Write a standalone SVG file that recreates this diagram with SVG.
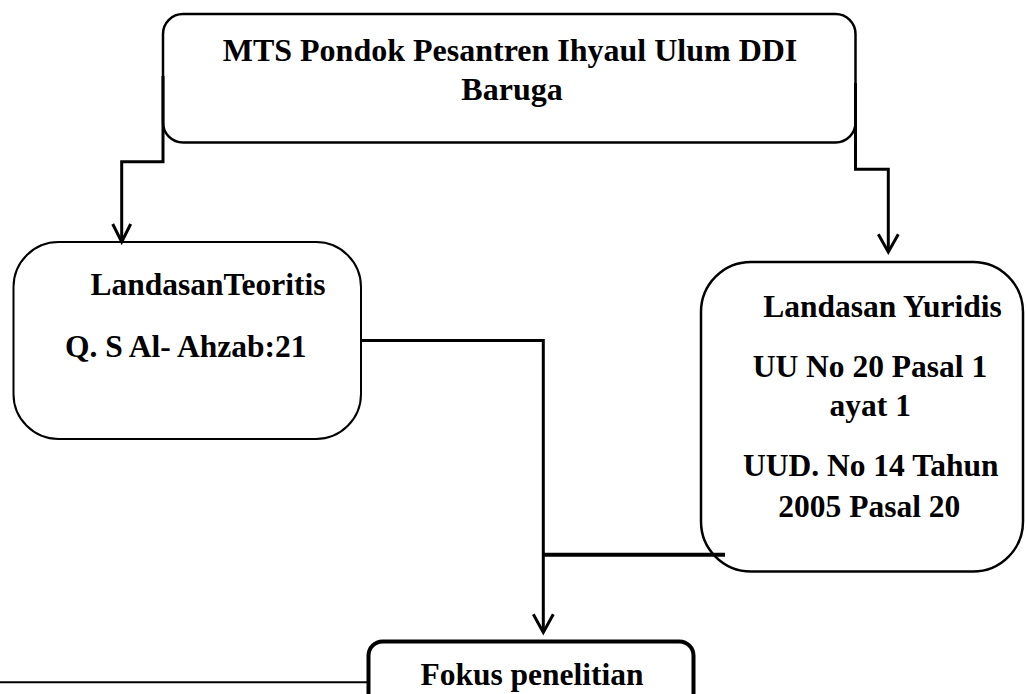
<svg xmlns="http://www.w3.org/2000/svg" width="1026" height="694" viewBox="0 0 1026 694">
<defs>
<style>
.box{fill:#fff;stroke:#000;stroke-width:2.5}
.t{font-family:"Liberation Serif","Times New Roman",serif;font-weight:bold;font-size:31.5px;fill:#000;text-anchor:middle}
.c{fill:none;stroke:#000;stroke-width:3;stroke-linejoin:miter}
.ah{fill:none;stroke:#000;stroke-width:3;stroke-linejoin:miter}
</style>
</defs>
<rect width="1026" height="694" fill="#fff"/>
<g id="node-mts">
<rect class="box" x="163" y="14" width="692.5" height="128.5" rx="20"/>
<text class="t" x="510" y="61" style="font-size:32px">MTS Pondok Pesantren Ihyaul Ulum DDI</text>
<text class="t" x="512" y="99.5" style="font-size:32px">Baruga</text>
</g>
<g id="node-teoritis">
<rect class="box" x="13.5" y="242" width="347.5" height="197" rx="45" style="stroke-width:2"/>
<text class="t" x="208" y="295">LandasanTeoritis</text>
<text class="t" x="185.7" y="357">Q. S Al- Ahzab:21</text>
</g>
<g id="node-yuridis">
<rect class="box" x="701" y="262" width="322" height="309.5" rx="50"/>
<text class="t" x="882.5" y="316.7">Landasan Yuridis</text>
<text class="t" x="870" y="376.7">UU No 20 Pasal 1</text>
<text class="t" x="870.3" y="415.7">ayat 1</text>
<text class="t" x="870.8" y="476">UUD. No 14 Tahun</text>
<text class="t" x="869.3" y="516.5">2005 Pasal 20</text>
</g>
<g id="node-fokus">
<rect class="box" x="368.5" y="641.5" width="325" height="80" rx="14" style="stroke-width:4"/>
<text class="t" x="532" y="685">Fokus penelitian</text>
</g>
<g id="connectors">
<polyline class="c" points="163,76 163,161.7 121.7,161.7 121.7,241"/>
<polyline class="ah" points="112.7,224 121.7,242 130.7,224"/>
<polyline class="c" points="855.5,83 855.5,169.3 888.3,169.3 888.3,251"/>
<polyline class="ah" points="878.3,234.3 888.3,252 898.3,234.3"/>
<polyline class="c" points="361,340.5 543.3,340.5 543.3,632"/>
<line x1="543.3" y1="554.8" x2="725" y2="554.8" stroke="#000" stroke-width="4"/>
<polyline class="ah" points="533.3,614.3 543.3,632.5 553.3,614.3"/>
<line x1="0" y1="682.3" x2="368.5" y2="682.3" stroke="#000" stroke-width="2"/>
</g>
</svg>
